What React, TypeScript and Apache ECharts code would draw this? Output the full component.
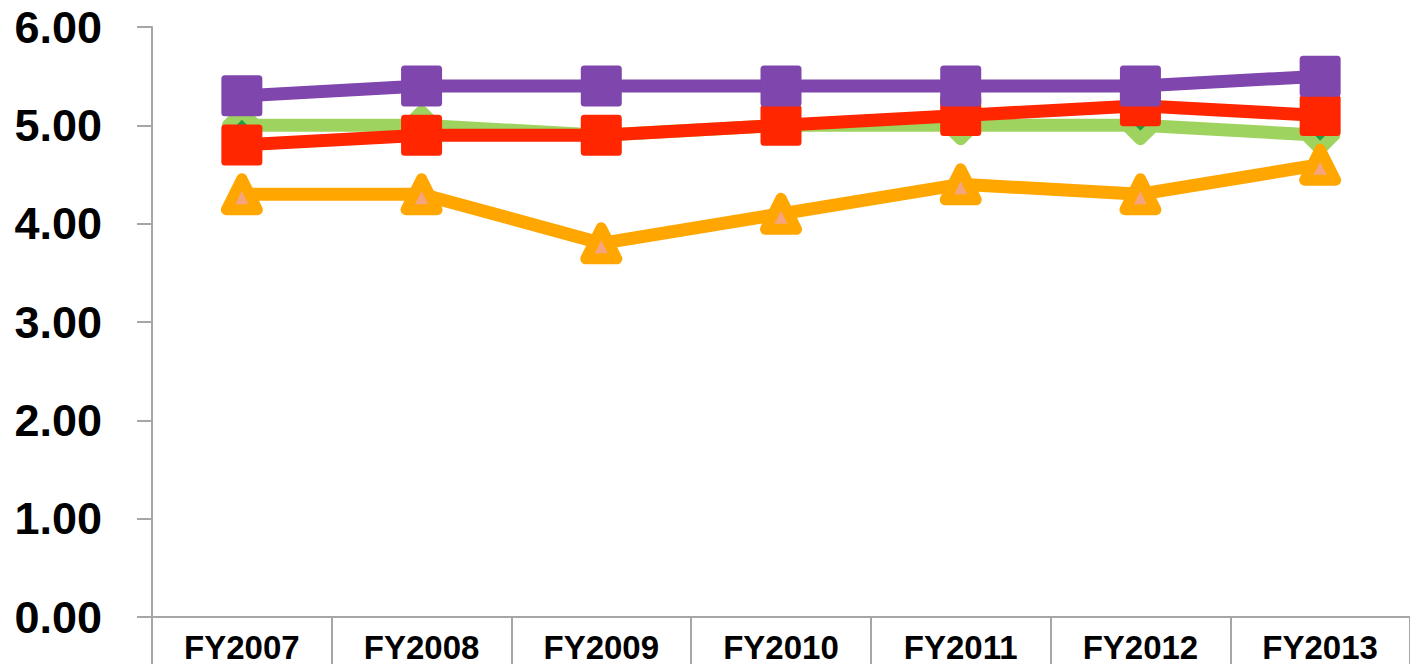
import React, { useEffect, useRef } from "react";
import * as echarts from "echarts";

// Fiscal years along the category axis
const categories = ["FY2007", "FY2008", "FY2009", "FY2010", "FY2011", "FY2012", "FY2013"];

// Series values (0–6 scale)
const greenValues = [5.0, 5.0, 4.9, 5.0, 5.0, 5.0, 4.9];
const orangeValues = [4.3, 4.3, 3.8, 4.1, 4.4, 4.3, 4.6];
const redValues = [4.8, 4.9, 4.9, 5.0, 5.1, 5.2, 5.1];
const purpleValues = [5.3, 5.4, 5.4, 5.4, 5.4, 5.4, 5.5];

// Value axis ticks
const yMin = 0;
const yMax = 6;
const yStep = 1;

const FONT = "'Liberation Sans', Arial, sans-serif";
const AXIS_GRAY = "#A6A6A6";

export default function App() {
  const ref = useRef<HTMLDivElement>(null);

  useEffect(() => {
    if (!ref.current) return;
    const chart = echarts.init(ref.current, null, { renderer: "svg" });

    const lineSeries = (name: string, data: number[], color: string, extra: any) => ({
      name,
      type: "line",
      data,
      lineStyle: { color, width: 13, join: "round", cap: "round" },
      ...extra,
    });

    chart.setOption({
      animation: false,
      backgroundColor: "#ffffff",
      grid: { left: 152, right: 0, top: 27, bottom: 47, containLabel: false },
      xAxis: {
        type: "category",
        data: categories,
        boundaryGap: true,
        axisLine: { show: true, lineStyle: { color: AXIS_GRAY, width: 2 } },
        axisTick: { show: true, interval: 0, length: 60, lineStyle: { color: AXIS_GRAY, width: 2 } },
        axisLabel: {
          interval: 0,
          margin: 14,
          color: "#000",
          fontFamily: FONT,
          fontWeight: "bold",
          fontSize: 33,
        },
        splitLine: { show: false },
      },
      yAxis: {
        type: "value",
        min: yMin,
        max: yMax,
        interval: yStep,
        axisLine: { show: true, lineStyle: { color: AXIS_GRAY, width: 2 } },
        axisTick: { show: true, length: 15, lineStyle: { color: AXIS_GRAY, width: 2 } },
        axisLabel: {
          margin: 50,
          color: "#000",
          fontFamily: FONT,
          fontWeight: "bold",
          fontSize: 45,
          formatter: (v: number) => v.toFixed(2),
        },
        splitLine: { show: false },
      },
      series: [
        lineSeries("Series 1", greenValues, "#9FD35F", {
          symbol: "diamond",
          symbolSize: 28,
          itemStyle: { color: "#1E9E4A", borderColor: "#9FD35F", borderWidth: 12, borderJoin: "round" },
        }),
        lineSeries("Series 2", orangeValues, "#FFA600", {
          symbol: "triangle",
          symbolSize: 31,
          itemStyle: { color: "#F6A47E", borderColor: "#FFA600", borderWidth: 11, borderJoin: "round" },
        }),
        lineSeries("Series 3", redValues, "#FF2600", {
          symbol: "rect",
          symbolSize: 34,
          itemStyle: { color: "#FF2600", borderColor: "#FF2600", borderWidth: 7, borderJoin: "round" },
        }),
        lineSeries("Series 4", purpleValues, "#7F47AD", {
          symbol: "rect",
          symbolSize: 34,
          itemStyle: { color: "#7F47AD", borderColor: "#7F47AD", borderWidth: 7, borderJoin: "round" },
        }),
        {
          name: "Series 4 pattern",
          type: "scatter",
          data: purpleValues,
          symbol: "path://M0,0L10,10M10,0L0,10",
          symbolSize: 36,
          itemStyle: { color: "none", borderColor: "#6B3896", borderWidth: 1.5, opacity: 0.8 },
          silent: true,
        },
      ],
    });

    return () => chart.dispose();
  }, []);

  return (
    <div
      ref={ref}
      style={{ position: "fixed", left: 0, top: 0, width: 1410, height: 664, background: "#fff" }}
    />
  );
}
